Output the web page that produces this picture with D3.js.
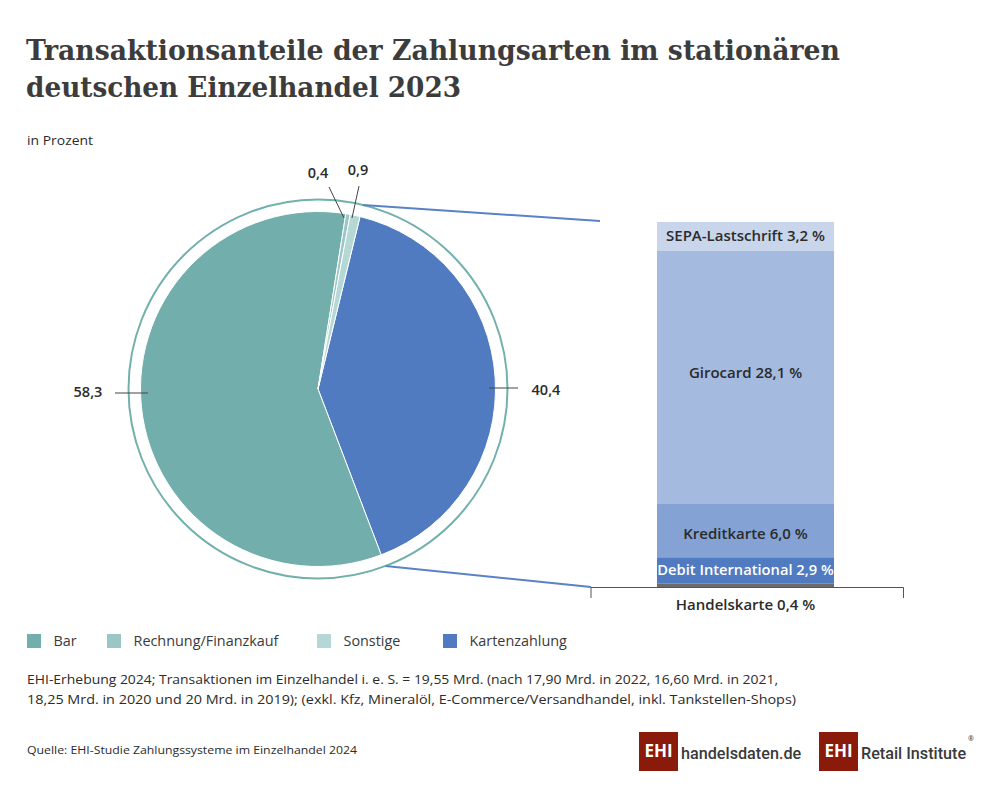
<!DOCTYPE html>
<html lang="de"><head><meta charset="utf-8">
<script src="https://cdn.jsdelivr.net/npm/d3@7"></script>
<style>html,body{margin:0;background:#fff}svg{display:block}text{font-family:"Open Sans",sans-serif;fill:#2b2b2b}</style>
</head><body><svg id="c" width="990" height="787"></svg>
<script>
const titleLines = ["Transaktionsanteile der Zahlungsarten im stationären","deutschen Einzelhandel 2023"];
const unitLabel = "in Prozent";
const pieNames = ["Kartenzahlung","Bar","Rechnung/Finanzkauf","Sonstige"];
const pieValues = [40.4,58.3,0.4,0.9];
const pieLabels = ["40,4","58,3","0,4","0,9"];
const pieColors = ["#507bc1","#72aeab","#9cc6c5","#b5d8d7"];
const legendNames = ["Bar","Rechnung/Finanzkauf","Sonstige","Kartenzahlung"];
const legendColors = ["#72aeab","#9cc6c5","#b5d8d7","#507bc1"];
const stackNames = ["SEPA-Lastschrift","Girocard","Kreditkarte","Debit International","Handelskarte"];
const stackValues = [3.2,28.1,6.0,2.9,0.4];
const stackLabels = ["3,2 %","28,1 %","6,0 %","2,9 %","0,4 %"];
const stackColors = ["#c9d5eb","#a5badf","#84a2d3","#507bc1","#6b6b6b"];
const noteLines = ["EHI-Erhebung 2024; Transaktionen im Einzelhandel i. e. S. = 19,55 Mrd. (nach 17,90 Mrd. in 2022, 16,60 Mrd. in 2021,","18,25 Mrd. in 2020 und 20 Mrd. in 2019); (exkl. Kfz, Mineralöl, E-Commerce/Versandhandel, inkl. Tankstellen-Shops)"];
const sourceText = "Quelle: EHI-Studie Zahlungssysteme im Einzelhandel 2024";

const svg = d3.select("#c");
const cx=318, cy=389, R=177.5, ringR=189.5;
const g = svg.append("g").attr("transform",`translate(${cx},${cy})`);

// title etc.
svg.selectAll(".t").data(titleLines).join("text").attr("x",26).attr("y",(d,i)=>60+i*37)
  .attr("textLength",(d,i)=>i?435:814).attr("lengthAdjust","spacingAndGlyphs")
  .style("font-family","'DejaVu Serif',serif").style("font-weight",700).style("font-size","28px").style("fill","#3c3c3c").text(d=>d);
svg.append("text").attr("x",27).attr("y",145).style("font-size","13.5px").attr("textLength",66).attr("lengthAdjust","spacingAndGlyphs").text(unitLabel);

// pie
const start = 13.7*Math.PI/180;
const pie = d3.pie().sort(null).value(d=>d).startAngle(start).endAngle(start+2*Math.PI);
const arcs = pie(pieValues);
const arc = d3.arc().innerRadius(0).outerRadius(R);
g.selectAll("path.s").data(arcs).join("path").attr("class","s").attr("d",arc)
  .attr("fill",(d,i)=>pieColors[i]).attr("stroke","#fff").attr("stroke-width",1);
g.append("circle").attr("r",ringR).attr("fill","none").attr("stroke","#72b0ac").attr("stroke-width",2);

// stacked bar
const barX=657, barW=177, barTop=222, barBottom=587;
const y = d3.scaleLinear().domain([0,d3.sum(stackValues)]).range([barTop,barBottom]);
let acc=0;
const stack = stackValues.map((v,i)=>{const o={i,y0:acc,y1:acc+v};acc+=v;return o;});
svg.selectAll("rect.b").data(stack).join("rect").attr("class","b").attr("x",barX).attr("width",barW)
  .attr("y",d=>y(d.y0)).attr("height",d=>y(d.y1)-y(d.y0)).attr("fill",d=>stackColors[d.i]);
const stackLabelDy=[5,1,9,5,0];
svg.selectAll("text.b").data(stack).join("text").attr("class","b")
  .attr("x",barX+barW/2).attr("text-anchor","middle")
  .attr("y",d=>d.i===4?y(d.y1)+23:(y(d.y0)+y(d.y1))/2+stackLabelDy[d.i])
  .style("font-size",d=>d.i===3?"14.7px":"15px").style("font-weight",600)
  .style("fill",d=>d.i===3?"#fff":"#2b2b2b")
  .text(d=>`${stackNames[d.i]} ${stackLabels[d.i]}`);

// connectors from the card slice edges
const polar=(a,r)=>[cx+r*Math.sin(a),cy-r*Math.cos(a)];
const line=(p,q,col,w)=>svg.append("line").attr("x1",p[0]).attr("y1",p[1]).attr("x2",q[0]).attr("y2",q[1]).attr("stroke",col).attr("stroke-width",w);
line(polar(arcs[0].startAngle,ringR),[600,221],"#5a82c6",2);
line(polar(arcs[0].endAngle,ringR),[591,587],"#5a82c6",2);
// bracket
svg.append("path").attr("d",`M591,598V587.5H903.5V598`).attr("fill","none").attr("stroke","#555").attr("stroke-width",1);

// leaders and pie labels
const grey="#444";
line([489,388],[518,388],grey,1); line([115,393],[148,393],grey,1);
line([329,187],[344,218],grey,1); line([359,186],[352,218],grey,1);
const labelPos=[[546,395],[88,397],[318,178],[358,175]];
svg.selectAll("text.p").data(pieLabels).join("text").attr("class","p").attr("text-anchor","middle")
  .attr("x",(d,i)=>labelPos[i][0]).attr("y",(d,i)=>labelPos[i][1])
  .style("font-size","14.5px").style("font-weight",600).text(d=>d);

// legend
const legX=[27,107,317,443];
legendNames.forEach((n,i)=>{
  svg.append("rect").attr("x",legX[i]).attr("y",634).attr("width",14).attr("height",14).attr("fill",legendColors[i]);
  svg.append("text").attr("x",legX[i]+26.5).attr("y",646).style("font-size","14.4px").style("fill","#3a3a3a").text(n);
});

// notes
const noteLen=[751,769];
svg.selectAll("text.n").data(noteLines).join("text").attr("class","n").attr("x",27).attr("y",(d,i)=>684+i*20)
  .attr("textLength",(d,i)=>noteLen[i]).attr("lengthAdjust","spacingAndGlyphs")
  .style("font-size","13.5px").text(d=>d);
svg.append("text").attr("x",27).attr("y",754).attr("textLength",330).attr("lengthAdjust","spacingAndGlyphs").style("font-size","11.5px").text(sourceText);

// logos
function logo(x,parts){
  svg.append("rect").attr("x",x).attr("y",732).attr("width",39).attr("height",39).attr("fill","#8a1a0a");
  svg.append("text").attr("x",x+19.5).attr("y",757).attr("text-anchor","middle").style("font-size","17px").style("font-weight",700).style("fill","#fff").text("EHI");
  const t=svg.append("text").attr("x",x+42).attr("y",759)
    .style("font-family","'Roboto',sans-serif").style("font-size","16.2px").style("font-weight",500).style("fill","#3a3a3a");
  parts.forEach(p=>t.append("tspan").style("fill",p[1]).text(p[0]));
}
logo(639,[["handelsdaten","#3a3a3a"],[".","#a01c10"],["de","#3a3a3a"]]);
logo(819,[["Retail Institute","#3a3a3a"]]);
svg.append("text").attr("x",968).attr("y",741).style("font-size","7px").text("®");
</script></body></html>
